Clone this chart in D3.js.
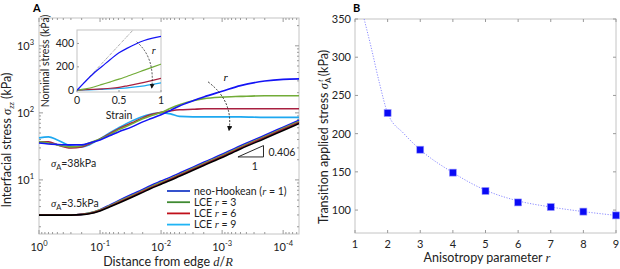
<!DOCTYPE html>
<html>
<head>
<meta charset="utf-8">
<script src="https://cdn.jsdelivr.net/npm/d3@7"></script>
<style>
  body { margin: 0; background: #fff; }
  svg { display: block; font-family: Lato, "Liberation Sans", sans-serif; }
  .it { font-family: "Liberation Serif", "DejaVu Serif", serif; font-style: italic; }
</style>
</head>
<body>
<div id="chart"></div>
<script>
// ---- panel A: interfacial stress vs distance from edge ----
var dist = [1, 0.7, 0.5, 0.3, 0.2, 0.15, 0.1, 0.07, 0.05, 0.03, 0.02, 0.015, 0.01,
            0.007, 0.005, 0.003, 0.002, 0.001, 5e-4, 2e-4, 1e-4, 5.5e-5]

// sigma_A = 38 kPa
var hiNeo  = [35.6, 34.4, 33.8, 33.3, 33.3, 35.6, 39.5, 45.4, 52, 61.8, 73.4, 81.4, 93.4, 109, 127, 152, 173, 210, 255, 298, 316, 321]
var hiR3   = [36.9, 35.6, 33.3, 31.1, 32.1, 35.6, 40.9, 47, 55.7, 68.5, 81.4, 90, 101, 117, 132, 152, 163, 172, 176, 180, 180, 180]
var hiR6   = [36.9, 36.9, 33.3, 30.0, 31.1, 34.4, 40.9, 48.6, 57.7, 71, 84.2, 93.4, 101.7, 107, 111, 113, 115, 115, 115, 115, 115, 115]
var hiR9   = [42.4, 43.9, 39.5, 32.1, 31.1, 33.3, 40.9, 50.2, 59.7, 76, 88.6, 95, 100, 96.6, 88.6, 87.2, 87.2, 87.2, 87.2, 85.7, 85.7, 85.7]

// sigma_A = 3.5 kPa
var loNeo  = [3.0, 3.0, 3.0, 3.0, 3.06, 3.2, 3.6, 4.2, 4.9, 6.1, 7.2, 8.2, 9.6, 11.0, 12.6, 15.5, 18.3, 24.1, 32.3, 46.4, 61.2, 77.7]
var loR3   = [3.02, 3.02, 3.02, 3.02, 3.08, 3.2, 3.58, 4.12, 4.75, 5.85, 6.95, 7.85, 9.2, 10.5, 12.1, 14.9, 17.6, 23.2, 31.1, 44.6, 58.8, 74.6]
var loR6   = [3.0, 3.0, 3.0, 3.0, 3.06, 3.16, 3.51, 4.02, 4.61, 5.67, 6.73, 7.6, 8.87, 10.2, 11.7, 14.4, 17.0, 22.4, 30.0, 43.1, 56.8, 72.1]
var loRef  = [2.98, 2.98, 2.98, 2.98, 3.03, 3.12, 3.45, 3.93, 4.48, 5.5, 6.52, 7.36, 8.6, 9.85, 11.3, 13.9, 16.4, 21.6, 28.9, 41.5, 54.7, 69.4]

var xTicksA = [1, 0.1, 0.01, 0.001, 1e-4]
var xTickExp = ["0", "-1", "-2", "-3", "-4"]
var yTicksA = [10, 100, 1000]
var yTickExp = ["1", "2", "3"]

var legendNames = ["neo-Hookean (", "LCE ", "LCE ", "LCE "]
var legendR = ["1", "3", "6", "9"]

// inset: nominal stress vs strain
var strain = [0, 0.1, 0.2, 0.3, 0.4, 0.5, 0.6, 0.7, 0.8, 0.9, 1.0]
var nsNeo = [0, 75, 145, 205, 265, 320, 360, 395, 425, 445, 460]
var nsR3  = [0, 12, 28, 50, 72, 95, 120, 145, 172, 198, 223]
var nsR6  = [0, 5, 8, 12, 17, 25, 38, 52, 68, 85, 101]
var nsR9  = [0, 3, 5, 8, 11, 15, 20, 28, 38, 50, 63]
var nsLinStrain = [0, 0.7]
var nsLin = [0, 540]
var insetYTicks = [0, 200, 400]
var insetXTicks = [0, 0.5, 1]

// ---- panel B: transition applied stress vs anisotropy ----
var rVals = [2, 3, 4, 5, 6, 7, 8, 9]
var transStress = [227, 179, 149, 125, 110, 104, 98, 93]
var fitR = [1.28, 1.5, 1.75, 2, 2.5, 3, 4, 5, 6, 7, 8, 9]
var fitS = [350, 312, 266, 227, 200, 179, 149, 126, 112, 104, 98, 93]
var xTicksB = [1, 2, 3, 4, 5, 6, 7, 8, 9]
var yTicksB = [100, 150, 200, 250, 300, 350]

var colBlue = "#1414f5", colGreen = "#72ac38", colRed = "#a82040", colCyan = "#1ea8f0"
var legCols = ["#1f3fc8", "#3f8a32", "#c0101a", "#20b4f4"]
var frameCol = "#c4c4c4", tickCol = "#9a9a9a"

var svg = d3.select("#chart").append("svg").attr("width", 620).attr("height", 269)
var defs = svg.append("defs")

// ================= panel A =================
var xA = d3.scaleLog().domain([1, 5.5e-5]).range([39, 299])
var yA = d3.scaleLog().domain([1.56, 2600]).range([234, 18])

var gA = svg.append("g")
gA.append("rect").attr("x", 39).attr("y", 18).attr("width", 260).attr("height", 216)
  .attr("fill", "none").attr("stroke", frameCol)

// log ticks (inside, on all four sides)
function minorLog(lo, hi) {
  var out = []
  for (var e = Math.floor(Math.log10(lo)); e <= Math.ceil(Math.log10(hi)); e++) {
    for (var m = 1; m < 10; m++) {
      var v = m * Math.pow(10, e)
      if (v >= lo && v <= hi) out.push({v: v, major: m == 1})
    }
  }
  return out
}
minorLog(5.5e-5, 1).forEach(function(t) {
  var L = t.major ? 4 : 2
  gA.append("line").attr("x1", xA(t.v)).attr("x2", xA(t.v)).attr("y1", 234).attr("y2", 234 - L).attr("stroke", tickCol)
  gA.append("line").attr("x1", xA(t.v)).attr("x2", xA(t.v)).attr("y1", 18).attr("y2", 18 + L).attr("stroke", tickCol)
})
minorLog(1.56, 2600).forEach(function(t) {
  var L = t.major ? 4 : 2
  gA.append("line").attr("x1", 39).attr("x2", 39 + L).attr("y1", yA(t.v)).attr("y2", yA(t.v)).attr("stroke", tickCol)
  gA.append("line").attr("x1", 299).attr("x2", 299 - L).attr("y1", yA(t.v)).attr("y2", yA(t.v)).attr("stroke", tickCol)
})

// tick labels
xTicksA.forEach(function(v, i) {
  var t = gA.append("text").attr("x", xA(v)).attr("y", 251).attr("text-anchor", "middle")
    .attr("font-size", 11).attr("fill", "#222")
  t.append("tspan").text("10")
  t.append("tspan").attr("dy", -5).attr("font-size", 7.5).text(xTickExp[i])
})
yTicksA.forEach(function(v, i) {
  var t = gA.append("text").attr("x", 34).attr("y", yA(v) + 4).attr("text-anchor", "end")
    .attr("font-size", 11).attr("fill", "#222")
  t.append("tspan").text("10")
  t.append("tspan").attr("dy", -5).attr("font-size", 7.5).text(yTickExp[i])
})

// axis titles
var xl = gA.append("text").attr("x", 168).attr("y", 265.5).attr("text-anchor", "middle").attr("font-size", 12.5).attr("fill", "#222")
xl.append("tspan").text("Distance from edge ")
xl.append("tspan").attr("class", "it").text("d")
xl.append("tspan").text("/")
xl.append("tspan").attr("class", "it").text("R")

var yl = gA.append("text").attr("transform", "translate(11,140) rotate(-90)").attr("text-anchor", "middle").attr("font-size", 12.5).attr("fill", "#222")
yl.append("tspan").text("Interfacial stress ")
yl.append("tspan").attr("class", "it").text("σ")
yl.append("tspan").attr("class", "it").attr("font-size", 8.5).attr("dy", 3).text("zz")
yl.append("tspan").attr("dy", -3).text(" (kPa)")

gA.append("text").attr("x", 33).attr("y", 12).attr("font-weight", "bold").attr("font-size", 11).text("A")

// curves
var lineA = function(vals) {
  return d3.line().x(function(d, i) { return xA(dist[i]) }).y(function(d) { return yA(d) })
    .curve(d3.curveMonotoneX)(vals)
}
var curvesA = [
  [hiR9, colCyan], [hiR6, colRed], [hiR3, colGreen], [hiNeo, colBlue],
  [loNeo, colBlue], [loR3, colGreen], [loR6, colRed], [loRef, "#000"]
]
gA.selectAll(".curveA").data(curvesA).enter().append("path")
  .attr("class", "curveA")
  .attr("d", function(c) { return lineA(c[0]) })
  .attr("fill", "none").attr("stroke", function(c) { return c[1] }).attr("stroke-width", 1.6)

// annotations
function sigmaLabel(x, y, rest) {
  var t = gA.append("text").attr("x", x).attr("y", y).attr("font-size", 10.5).attr("fill", "#222")
  t.append("tspan").attr("class", "it").text("σ")
  t.append("tspan").attr("font-size", 7.5).attr("dy", 2.5).text("A")
  t.append("tspan").attr("dy", -2.5).text(rest)
}
sigmaLabel(51, 167, "=38kPa")
sigmaLabel(51, 207, "=3.5kPa")

// slope triangle
var d1 = 5.5e-4, d2 = 2.1e-4, s0 = 22
var s1 = s0 * Math.pow(d1 / d2, 0.406)
gA.append("path")
  .attr("d", "M" + xA(d1) + "," + yA(s0) + "L" + xA(d2) + "," + yA(s1) + "L" + xA(d2) + "," + yA(s0) + "Z")
  .attr("fill", "none").attr("stroke", "#111").attr("stroke-width", 0.9)
gA.append("text").attr("x", xA(d2) + 5).attr("y", yA(s0) - 1).attr("font-size", 10.5).attr("fill", "#222").text("0.406")
gA.append("text").attr("x", (xA(d1) + xA(d2)) / 2 + 4).attr("y", yA(s0) + 13).attr("text-anchor", "middle").attr("font-size", 10.5).attr("fill", "#222").text("1")

// dashed arrow with r
defs.append("marker").attr("id", "arr").attr("viewBox", "0 0 10 10").attr("refX", 8).attr("refY", 5)
  .attr("markerWidth", 6).attr("markerHeight", 6).attr("orient", "auto")
  .append("path").attr("d", "M0,0L10,5L0,10Z").attr("fill", "#111")
function arcArrow(p0, pc, p1) {
  return "M" + p0[0] + "," + p0[1] + "Q" + pc[0] + "," + pc[1] + " " + p1[0] + "," + p1[1]
}
gA.append("path")
  .attr("d", arcArrow([xA(1.7e-3), yA(290)], [xA(6.5e-4), yA(150)], [xA(7.7e-4), yA(55)]))
  .attr("fill", "none").attr("stroke", "#222").attr("stroke-width", 0.9).attr("stroke-dasharray", "2,1.5")
  .attr("marker-end", "url(#arr)")
gA.append("text").attr("class", "it").attr("x", xA(9.5e-4)).attr("y", yA(300)).attr("font-size", 11).text("r")

// legend
var leg = gA.append("g")
legendR.forEach(function(r, i) {
  var y = 191 + i * 11.2
  leg.append("line").attr("x1", 167).attr("x2", 190).attr("y1", y).attr("y2", y).attr("stroke", legCols[i]).attr("stroke-width", 1.8)
  var t = leg.append("text").attr("x", 194).attr("y", y + 3.8).attr("font-size", 10.5).attr("fill", "#222")
  t.append("tspan").text(legendNames[i])
  t.append("tspan").attr("class", "it").text("r")
  t.append("tspan").text(" = " + r + (i == 0 ? ")" : ""))
})

// ---- inset ----
var xI = d3.scaleLinear().domain([0, 1]).range([77, 161])
var yI = d3.scaleLinear().domain([-15, 515]).range([92, 30])
var gI = svg.append("g")
gI.append("rect").attr("x", 77).attr("y", 30).attr("width", 84).attr("height", 62).attr("fill", "#fff").attr("stroke", frameCol)
defs.append("clipPath").attr("id", "clipI").append("rect").attr("x", 77).attr("y", 30).attr("width", 84).attr("height", 62)
insetYTicks.forEach(function(v) {
  gI.append("line").attr("x1", 77).attr("x2", 79).attr("y1", yI(v)).attr("y2", yI(v)).attr("stroke", tickCol)
  gI.append("text").attr("x", 74).attr("y", yI(v) + 3.5).attr("text-anchor", "end").attr("font-size", 10.5).attr("fill", "#222").text(v)
})
insetXTicks.forEach(function(v) {
  gI.append("line").attr("x1", xI(v)).attr("x2", xI(v)).attr("y1", 92).attr("y2", 90).attr("stroke", tickCol)
  gI.append("text").attr("x", xI(v)).attr("y", 104).attr("text-anchor", "middle").attr("font-size", 10.5).attr("fill", "#222").text(v)
})
gI.append("text").attr("x", 119).attr("y", 118.5).attr("text-anchor", "middle").attr("font-size", 10.5).attr("fill", "#222").text("Strain")
gI.append("text").attr("transform", "translate(49,61) rotate(-90)").attr("text-anchor", "middle").attr("font-size", 10.5).attr("fill", "#222").text("Nominal stress (kPa)")

var lineI = function(xs, ys) {
  return d3.line().x(function(d, i) { return xI(xs[i]) }).y(function(d) { return yI(d) })
    .curve(d3.curveMonotoneX)(ys)
}
var gIc = gI.append("g").attr("clip-path", "url(#clipI)")
gIc.append("path").attr("d", lineI(nsLinStrain, nsLin)).attr("fill", "none").attr("stroke", "#888")
  .attr("stroke-width", 0.7).attr("stroke-dasharray", "3,1,1,1")
var curvesI = [[nsR9, colCyan], [nsR6, colRed], [nsR3, colGreen], [nsNeo, colBlue]]
gIc.selectAll(".curveI").data(curvesI).enter().append("path").attr("class", "curveI")
  .attr("d", function(c) { return lineI(strain, c[0]) })
  .attr("fill", "none").attr("stroke", function(c) { return c[1] }).attr("stroke-width", 1.2)
gI.append("path")
  .attr("d", arcArrow([xI(0.71), yI(414)], [xI(0.93), yI(280)], [xI(0.89), yI(20)]))
  .attr("fill", "none").attr("stroke", "#222").attr("stroke-width", 0.8).attr("stroke-dasharray", "2,1.5")
  .attr("marker-end", "url(#arr)")
gI.append("text").attr("class", "it").attr("x", xI(0.89)).attr("y", yI(310)).attr("font-size", 10).text("r")

// ================= panel B =================
var xB = d3.scaleLinear().domain([1, 9]).range([355, 616])
var yB = d3.scaleLinear().domain([70, 350]).range([233, 19])
var gB = svg.append("g")
gB.append("rect").attr("x", 355).attr("y", 19).attr("width", 261).attr("height", 214)
  .attr("fill", "none").attr("stroke", frameCol)
xTicksB.forEach(function(v) {
  gB.append("line").attr("x1", xB(v)).attr("x2", xB(v)).attr("y1", 233).attr("y2", 230).attr("stroke", tickCol)
  gB.append("line").attr("x1", xB(v)).attr("x2", xB(v)).attr("y1", 19).attr("y2", 22).attr("stroke", tickCol)
  gB.append("text").attr("x", xB(v)).attr("y", 248).attr("text-anchor", "middle").attr("font-size", 11).attr("fill", "#222").text(v)
})
yTicksB.forEach(function(v) {
  gB.append("line").attr("x1", 355).attr("x2", 358).attr("y1", yB(v)).attr("y2", yB(v)).attr("stroke", tickCol)
  gB.append("line").attr("x1", 616).attr("x2", 613).attr("y1", yB(v)).attr("y2", yB(v)).attr("stroke", tickCol)
  gB.append("text").attr("x", 351).attr("y", yB(v) + 4).attr("text-anchor", "end").attr("font-size", 11).attr("fill", "#222").text(v)
})
var xlB = gB.append("text").attr("x", 487).attr("y", 262).attr("text-anchor", "middle").attr("font-size", 12.5).attr("fill", "#222")
xlB.append("tspan").text("Anisotropy parameter ")
xlB.append("tspan").attr("class", "it").text("r")
var ylB = gB.append("text").attr("transform", "translate(328,137) rotate(-90)").attr("text-anchor", "middle").attr("font-size", 12.5).attr("fill", "#222")
ylB.append("tspan").text("Transition applied stress ")
ylB.append("tspan").attr("class", "it").text("σ")
ylB.append("tspan").attr("font-size", 8).attr("dy", 3).text("A")
ylB.append("tspan").attr("class", "it").attr("font-size", 8).attr("dx", -4).attr("dy", -8).text("t")
ylB.append("tspan").attr("dy", 5).text(" (kPa)")
gB.append("text").attr("x", 353).attr("y", 12).attr("font-weight", "bold").attr("font-size", 11).text("B")

gB.append("path")
  .attr("d", d3.line().x(function(d, i) { return xB(fitR[i]) }).y(function(d) { return yB(d) }).curve(d3.curveMonotoneX)(fitS))
  .attr("fill", "none").attr("stroke", "#8c8cff").attr("stroke-width", 1).attr("stroke-dasharray", "1.2,1.5")
gB.selectAll(".pt").data(rVals).enter().append("rect").attr("class", "pt")
  .attr("x", function(d) { return xB(d) - 3.5 }).attr("y", function(d, i) { return yB(transStress[i]) - 3.5 })
  .attr("width", 7).attr("height", 7).attr("fill", "#0a0af5").attr("stroke", "#9a9aff").attr("stroke-width", 0.6)
</script>
</body>
</html>
